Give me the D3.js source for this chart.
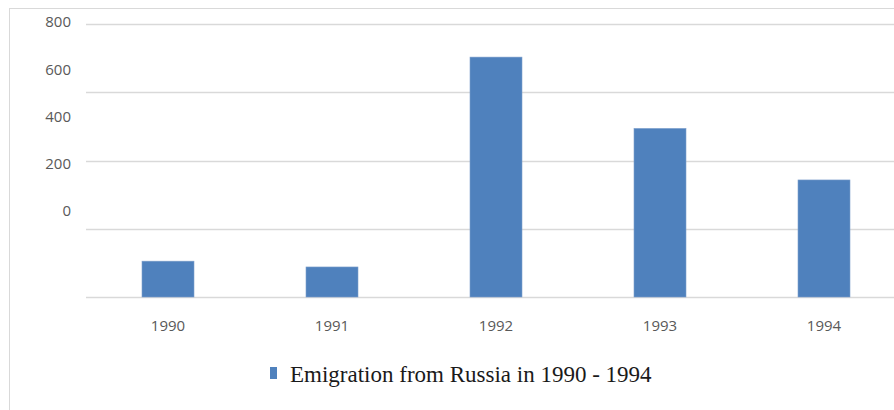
<!DOCTYPE html>
<html lang="en">
    <head>
        <meta charset="utf-8">
        <title>Emigration from Russia</title>
        <script type="text/javascript" src="https://cdn.jsdelivr.net/npm/d3@7"></script>
        <style>
          body { margin: 0; background: #fff; }
        </style>
    </head>
    <body>
        <script type="text/javascript">
          // data
          var years = ["1990", "1991", "1992", "1993", "1994"];
          var emigrants = [105, 88, 703, 494, 343];
          var tickValues = [0, 200, 400, 600, 800];
          var seriesName = "Emigration from Russia in 1990 - 1994";

          var w = 894;
          var h = 410;

          var svg = d3.select("body")
            .append("svg")
            .attr("width", w)
            .attr("height", h);

          // chart frame (right and bottom edges fall outside the picture)
          svg.append("rect")
            .attr("x", 9.5)
            .attr("y", 8.5)
            .attr("width", 900)
            .attr("height", 420)
            .attr("fill", "white")
            .attr("stroke", "#d9d9d9");

          var x = d3.scaleBand()
            .domain(years)
            .range([86, 906])
            .paddingInner(0.683)
            .paddingOuter(0.3415);

          var y = d3.scaleLinear()
            .domain([0, 800])
            .range([297, 24]);

          // the value labels sit on their own spacing in the original
          var yLabel = d3.scaleLinear()
            .domain([0, 800])
            .range([211, 22]);

          // gridlines
          svg.selectAll("line.grid")
            .data(tickValues)
            .enter()
            .append("line")
            .attr("class", "grid")
            .attr("x1", 86)
            .attr("x2", w)
            .attr("y1", function(d) { return Math.round(y(d)) + 0.5; })
            .attr("y2", function(d) { return Math.round(y(d)) + 0.5; })
            .attr("stroke", "#d9d9d9")
            .attr("stroke-width", 1.5);

          // y labels
          svg.selectAll("text.ylab")
            .data(tickValues)
            .enter()
            .append("text")
            .attr("class", "ylab")
            .text(function(d) { return d; })
            .attr("x", 71)
            .attr("y", function(d) { return yLabel(d); })
            .attr("dy", "0.35em")
            .attr("text-anchor", "end")
            .attr("font-family", "'Open Sans', sans-serif")
            .attr("font-size", "15px")
            .attr("fill", "#595959");

          // bars
          svg.selectAll("rect.bar")
            .data(emigrants)
            .enter()
            .append("rect")
            .attr("class", "bar")
            .attr("x", function(d, i) { return x(years[i]); })
            .attr("y", function(d) { return y(d); })
            .attr("width", x.bandwidth())
            .attr("height", function(d) { return y(0) - y(d); })
            .attr("fill", "#4f81bd")
            .attr("stroke", "#7d9fcb")
            .attr("stroke-width", 0.6);

          // x labels
          svg.selectAll("text.xlab")
            .data(years)
            .enter()
            .append("text")
            .attr("class", "xlab")
            .text(function(d) { return d; })
            .attr("x", function(d) { return x(d) + x.bandwidth() / 2; })
            .attr("y", 326)
            .attr("dy", "0.35em")
            .attr("text-anchor", "middle")
            .attr("font-family", "'Open Sans', sans-serif")
            .attr("font-size", "15px")
            .attr("fill", "#595959");

          // legend
          svg.append("rect")
            .attr("x", 270)
            .attr("y", 367)
            .attr("width", 7)
            .attr("height", 12)
            .attr("fill", "#4f81bd");

          svg.append("text")
            .text(seriesName)
            .attr("x", 290)
            .attr("y", 382)
            .attr("font-family", "'Liberation Serif', 'Times New Roman', serif")
            .attr("font-size", "23px")
            .attr("fill", "#1a1a1a");
        </script>
    </body>
</html>
